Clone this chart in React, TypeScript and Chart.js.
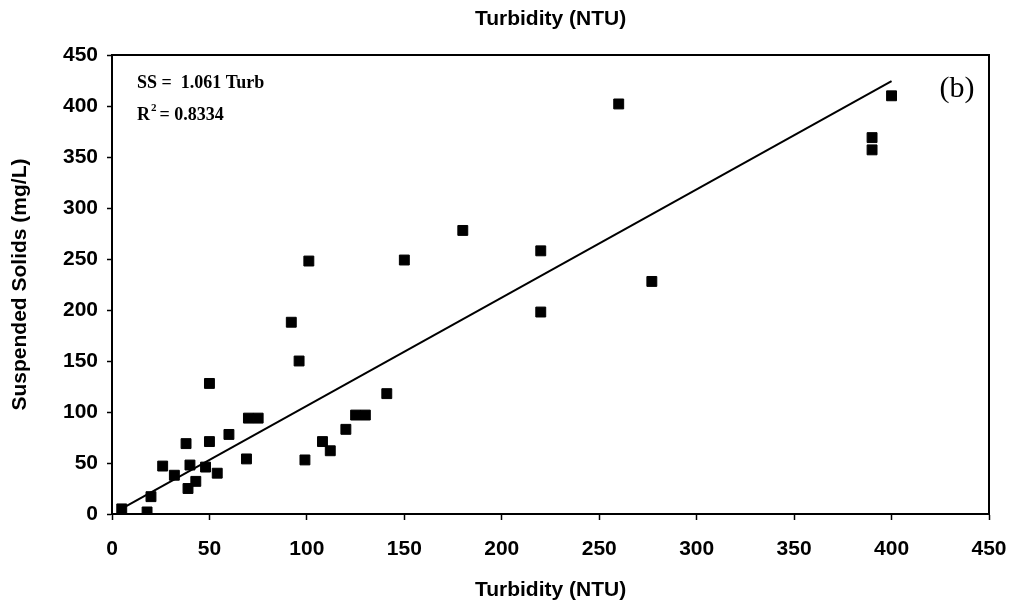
import { useEffect, useRef } from "react";
import { Chart, registerables } from "chart.js";

Chart.register(...registerables);

// ---- Data ----
const turbidity = [5, 18, 20, 26, 32, 38, 39, 40, 43, 48, 50, 50, 54, 60, 69, 70, 75, 92, 96, 101, 99, 108, 112, 120, 125, 130, 141, 150, 180, 220, 220, 260, 277, 390, 390, 400];
const suspendedSolids = [5, 2, 17, 47, 38, 69, 25, 48, 32, 46, 128, 71, 40, 78, 54, 94, 94, 188, 150, 248, 53, 71, 62, 83, 97, 97, 118, 249, 278, 258, 198, 402, 228, 369, 357, 410];

const fitLineX = [5, 400];
const fitLineY = [5.3, 424.4];

const axisMin = 0;
const axisMax = 450;
const axisStep = 50;

const xTitle = "Turbidity (NTU)";
const topTitle = "Turbidity (NTU)";
const yTitle = "Suspended Solids (mg/L)";
const equationText = "SS =  1.061 Turb";
const r2Prefix = "R";
const r2Sup = "2";
const r2Rest = " = 0.8334";
const panelLabel = "(b)";

const SANS = '"Liberation Sans", Arial, sans-serif';
const SERIF = '"Liberation Serif", "Times New Roman", serif';

const decorPlugin = {
  id: "decor",
  afterDraw(chart: any) {
    const { ctx, chartArea: a } = chart;
    ctx.save();
    ctx.strokeStyle = "#000";
    ctx.lineWidth = 2;
    ctx.strokeRect(a.left, a.top, a.right - a.left, a.bottom - a.top);

    ctx.fillStyle = "#000";
    ctx.font = `bold 21px ${SANS}`;
    ctx.textAlign = "center";
    ctx.textBaseline = "middle";
    ctx.fillText(topTitle, (a.left + a.right) / 2, 19);

    const tx = a.left + 25;
    ctx.textAlign = "left";
    ctx.textBaseline = "alphabetic";
    ctx.font = `bold 18px ${SERIF}`;
    ctx.fillText(equationText, tx, a.top + 33);
    ctx.fillText(r2Prefix, tx, a.top + 65);
    const rw = ctx.measureText(r2Prefix).width;
    ctx.font = `bold 11px ${SERIF}`;
    ctx.fillText(r2Sup, tx + rw + 1, a.top + 56);
    ctx.font = `bold 18px ${SERIF}`;
    ctx.fillText(r2Rest, tx + rw + 5, a.top + 65);

    ctx.font = `30px ${SERIF}`;
    ctx.textAlign = "center";
    ctx.fillText(panelLabel, a.right - 32, a.top + 42);
    ctx.restore();
  },
};

export default function App() {
  const canvasRef = useRef<HTMLCanvasElement | null>(null);

  useEffect(() => {
    if (!canvasRef.current) return;
    const points = turbidity.map((x, i) => ({ x, y: suspendedSolids[i] }));
    const fit = fitLineX.map((x, i) => ({ x, y: fitLineY[i] }));
    const tickFont = { family: SANS, size: 21, weight: "bold" as const };
    const chart = new Chart(canvasRef.current, {
      type: "scatter",
      data: {
        datasets: [
          {
            type: "line",
            data: fit,
            borderColor: "#000",
            borderWidth: 2,
            pointRadius: 0,
            fill: false,
            order: 2,
          } as any,
          {
            data: points,
            pointStyle: "rect",
            pointRadius: 7,
            pointBackgroundColor: "#000",
            pointBorderColor: "#000",
            pointBorderWidth: 1,
            order: 1,
          },
        ],
      },
      options: {
        animation: false,
        responsive: true,
        maintainAspectRatio: false,
        layout: { padding: { left: 0, right: 24, top: 55, bottom: 0 } },
        plugins: {
          legend: { display: false },
          tooltip: { enabled: false },
          title: { display: false },
        },
        scales: {
          x: {
            type: "linear",
            min: axisMin,
            max: axisMax,
            afterFit: (s: any) => {
              s.height = 96;
              s.paddingRight = 20;
              s.paddingLeft = 0;
            },
            ticks: {
              stepSize: axisStep,
              autoSkip: false,
              maxRotation: 0,
              color: "#000",
              font: tickFont,
              padding: 17,
            },
            grid: {
              display: true,
              drawOnChartArea: false,
              drawTicks: true,
              tickLength: 6,
              tickColor: "#000",
              tickWidth: 1.5,
            },
            border: { display: true, color: "#000", width: 2 },
            title: {
              display: true,
              text: xTitle,
              color: "#000",
              font: { family: SANS, size: 21, weight: "bold" },
              padding: { top: 0, bottom: 7 },
            },
          },
          y: {
            type: "linear",
            min: axisMin,
            max: axisMax,
            afterFit: (s: any) => {
              s.width = 112;
            },
            ticks: {
              stepSize: axisStep,
              color: "#000",
              font: tickFont,
              padding: 9,
            },
            grid: {
              display: true,
              drawOnChartArea: false,
              drawTicks: true,
              tickLength: 5,
              tickColor: "#000",
              tickWidth: 1.5,
            },
            border: { display: true, color: "#000", width: 2 },
            title: {
              display: true,
              text: yTitle,
              color: "#000",
              font: { family: SANS, size: 21, weight: "bold" },
              padding: { top: 8, bottom: 0 },
            },
          },
        },
      },
      plugins: [decorPlugin],
    });
    return () => chart.destroy();
  }, []);

  return (
    <div style={{ position: "fixed", left: 0, top: 0, width: 1013, height: 610, background: "#fff" }}>
      <canvas ref={canvasRef} />
    </div>
  );
}
